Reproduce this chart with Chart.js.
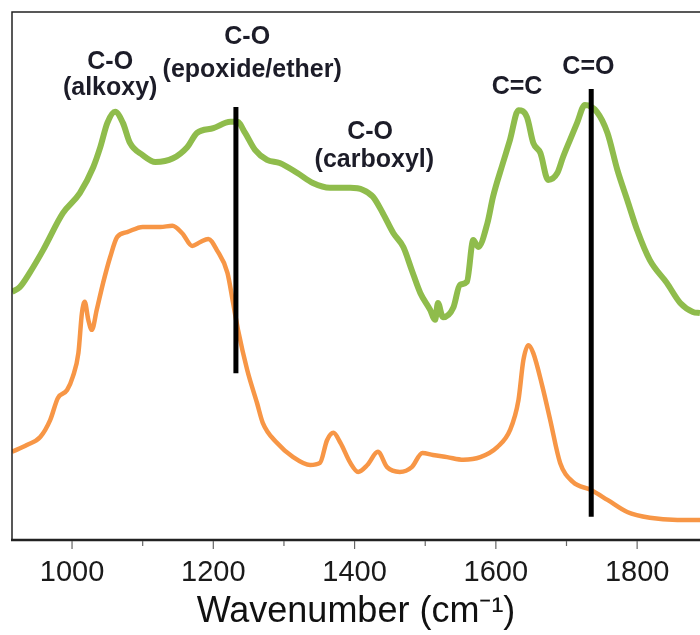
<!DOCTYPE html>
<html>
<head>
<meta charset="utf-8">
<script src="https://cdn.jsdelivr.net/npm/chart.js@4"></script>
<style>
html,body{margin:0;padding:0;background:#fff;overflow:hidden;}
#wrap{width:700px;height:635px;position:relative;}
</style>
</head>
<body>
<div id="wrap"><canvas id="c" width="700" height="635"></canvas></div>
<script>
// Wavenumber (cm-1) and arbitrary absorbance values
const upperWavenumbers = [915,926,940,959,987,1011,1030,1040,1050,1061,1072,1082,1100,1118,1143,1163,1177,1200,1224,1234,1245,1259,1276,1294,1319,1341,1365,1394,1412,1426,1440,1455,1469,1481,1493,1507,1514,1518,1525,1540,1549,1559,1568,1575,1588,1596,1610,1620,1632,1644,1653,1663,1674,1687,1695,1705,1715,1726,1743,1758,1772,1786,1800,1818,1842,1861,1879,1889];
const upperValues = [47.0,47.9,50.6,54.9,61.9,65.7,70.6,74.4,79.0,81.1,79.0,75.2,72.9,71.6,72.3,74.4,77.1,78.0,79.2,79.2,77.1,73.9,72.0,71.4,69.5,67.6,66.7,66.7,66.3,65.0,61.9,58.1,55.5,51.1,46.8,43.6,41.7,44.9,42.2,44.1,48.3,48.9,56.8,55.5,60.0,65.0,71.4,75.8,81.4,80.1,75.2,73.3,68.2,69.5,72.5,75.8,79.0,82.4,81.1,77.1,70.1,64.4,58.7,53.0,48.7,44.9,43.2,43.0];

const lowerWavenumbers = [915,936,955,969,980,993,1001,1009,1014,1018,1023,1028,1035,1044,1054,1064,1078,1100,1125,1142,1156,1170,1181,1193,1205,1220,1228,1235,1248,1262,1270,1290,1313,1337,1351,1361,1370,1380,1394,1405,1418,1433,1446,1464,1481,1496,1511,1531,1554,1578,1602,1620,1632,1639,1646,1653,1666,1677,1691,1709,1734,1758,1786,1818,1857,1889];
const lowerValues = [16.7,18.0,19.5,22.7,26.9,28.4,30.9,35.4,43.0,45.1,41.7,39.8,43.6,48.7,53.6,57.4,58.3,59.3,59.3,59.5,58.1,55.7,56.4,57.0,54.9,50.6,44.9,39.8,32.2,25.9,22.2,18.4,15.7,14.2,14.6,18.9,20.3,18.4,14.6,12.9,14.2,16.7,13.8,12.9,13.8,16.5,16.1,15.7,15.2,15.7,17.6,20.8,26.5,34.1,36.9,35.4,29.0,22.7,14.6,11.0,9.5,7.6,5.3,4.2,3.8,3.8];

// Marker lines (wavenumber, start value, end value)
const markerWavenumbers = [1232, 1735];
const markerTops = [82.0, 85.4];
const markerBottoms = [31.6, 4.4];

// Band annotations
const labelTexts = ["C-O","(alkoxy)","C-O","(epoxide/ether)","C-O","(carboxyl)","C=C","C=O"];
const labelWavenumbers = [1054,1054,1248,1255,1422,1428,1630,1731];
const labelValues = [90.5,85.6,95.3,89.0,77.3,72.0,85.8,89.6];

const xTickValues = [1000,1200,1400,1600,1800];
const xMin = 915, xMax = 1889;

const toPoints = (xs, ys) => xs.map((x, i) => ({x: x, y: ys[i]}));

const datasets = [
  {label:'Upper spectrum', data: toPoints(upperWavenumbers, upperValues), borderColor:'#8fbc4c', borderWidth:6, pointRadius:0, cubicInterpolationMode:'monotone', order:2},
  {label:'Lower spectrum', data: toPoints(lowerWavenumbers, lowerValues), borderColor:'#f79646', borderWidth:4.5, pointRadius:0, cubicInterpolationMode:'monotone', order:3}
];
markerWavenumbers.forEach((w, i) => {
  datasets.push({label:'marker'+i, data:[{x:w,y:markerTops[i]},{x:w,y:markerBottoms[i]}], borderColor:'#000', borderWidth:5, pointRadius:0, borderCapStyle:'butt', order:1});
});

const framePlugin = {
  id:'frame',
  afterDraw(chart){
    const ctx = chart.ctx, a = chart.chartArea, xs = chart.scales.x;
    ctx.save();
    ctx.strokeStyle = '#222';
    ctx.lineWidth = 1.5;
    ctx.beginPath();
    ctx.moveTo(a.left, a.bottom); ctx.lineTo(a.left, a.top); ctx.lineTo(chart.width, a.top);
    ctx.stroke();
    ctx.lineWidth = 2.5;
    ctx.beginPath(); ctx.moveTo(a.left - 1, a.bottom); ctx.lineTo(chart.width, a.bottom); ctx.stroke();
    ctx.strokeStyle = '#666';
    ctx.lineWidth = 1.2;
    for (let v = 1000; v <= xMax; v += 100) {
      const px = xs.getPixelForValue(v);
      const len = (v % 200 === 0) ? 8 : 5;
      ctx.beginPath(); ctx.moveTo(px, a.bottom + 1); ctx.lineTo(px, a.bottom + 1 + len); ctx.stroke();
    }
    // labels
    ctx.fillStyle = '#1c1c28';
    ctx.font = 'bold 25px "Liberation Sans", Arial, sans-serif';
    ctx.textAlign = 'center';
    ctx.textBaseline = 'middle';
    const ys = chart.scales.y;
    labelTexts.forEach((t, i) => {
      ctx.fillText(t, xs.getPixelForValue(labelWavenumbers[i]), ys.getPixelForValue(labelValues[i]));
    });
    ctx.restore();
  }
};

new Chart(document.getElementById('c'), {
  type:'line',
  data:{datasets},
  options:{
    responsive:false,
    animation:false,
    devicePixelRatio:1,
    layout:{padding:{left:12, top:12, right:0, bottom:0}},
    plugins:{legend:{display:false}, tooltip:{enabled:false}},
    scales:{
      x:{
        type:'linear', min:xMin, max:xMax,
        afterBuildTicks(scale){ scale.ticks = xTickValues.map(v => ({value:v})); },
        afterFit(scale){ scale.height = 95; },
        grid:{display:false, drawTicks:false},
        border:{display:false},
        ticks:{font:{family:'"Liberation Sans", Arial, sans-serif', size:29}, color:'#1a1a1a', padding:16, maxRotation:0, autoSkip:false, callback:(v) => String(v)},
        title:{display:true, text:'Wavenumber (cm\u207B\u00B9)', font:{family:'"Liberation Sans", Arial, sans-serif', size:36}, color:'#111', padding:{top:0,bottom:1}}
      },
      y:{display:false, min:0, max:100}
    }
  },
  plugins:[framePlugin]
});
</script>
</body>
</html>
